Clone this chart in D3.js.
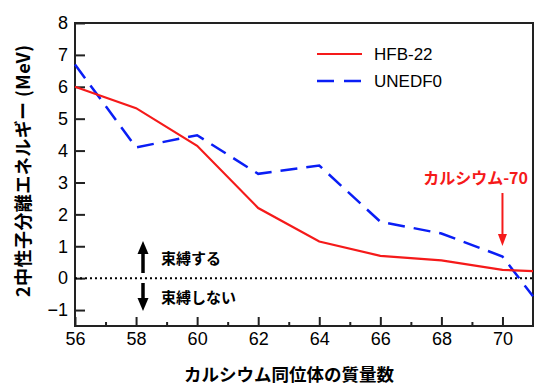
<!DOCTYPE html>
<html>
<head>
<meta charset="utf-8">
<script src="https://cdn.jsdelivr.net/npm/d3@7"></script>
<style>
  body { margin: 0; background: #fff; }
  text { font-family: "Liberation Sans", Arial, sans-serif; }
  .jp { font-family: "Noto Sans CJK JP", sans-serif; }
</style>
</head>
<body>
<div id="chart"></div>
<script>
var massNumbers = [56, 58, 60, 62, 64, 66, 68, 70, 71];
var hfb22 = [6.0, 5.33, 4.15, 2.2, 1.15, 0.7, 0.56, 0.26, 0.22];
var unedf0 = [6.7, 4.1, 4.48, 3.27, 3.53, 1.77, 1.4, 0.68, -0.57];
var xTicks = [56, 58, 60, 62, 64, 66, 68, 70];
var yTicks = [-1, 0, 1, 2, 3, 4, 5, 6, 7, 8];

var svgWidth = 550;
var svgHeight = 392;

var margin = { top: 23, right: 17, bottom: 66, left: 75 };
var width = svgWidth - margin.left - margin.right;
var height = svgHeight - margin.top - margin.bottom;

var svg = d3.select("#chart")
    .append("svg")
    .attr("width", svgWidth)
    .attr("height", svgHeight);

var g = svg.append("g")
    .attr("transform", `translate(${margin.left}, ${margin.top})`);

var x = d3.scaleLinear().domain([56, 71]).range([0, width]);
var y = d3.scaleLinear().domain([-1.5, 8]).range([height, 0]);

// axes, ticks drawn inward
var bottomAxis = d3.axisBottom(x)
    .tickValues(xTicks)
    .tickSize(-9)
    .tickPadding(6)
    .tickFormat(d3.format("d"));
var minorAxis = d3.axisBottom(x)
    .tickValues(d3.range(57, 71, 2))
    .tickSize(-4)
    .tickFormat("");
var leftAxis = d3.axisLeft(y)
    .tickValues(yTicks)
    .tickSize(-10)
    .tickPadding(7)
    .tickFormat(d => d < 0 ? "\u2212" + Math.abs(d) : d);

g.append("g").attr("transform", `translate(0, ${height})`).call(bottomAxis);
g.append("g").attr("transform", `translate(0, ${height})`).call(minorAxis);
g.append("g").call(leftAxis);

g.selectAll(".domain").remove();
g.selectAll(".tick line").attr("stroke", "#222").attr("stroke-width", 2);
g.selectAll(".tick text")
    .attr("fill", "#000")
    .style("font-size", "18px")
    .style("font-family", "'Liberation Sans', Arial, sans-serif");

// frame
g.append("rect")
    .attr("width", width)
    .attr("height", height)
    .attr("fill", "none")
    .attr("stroke", "#222")
    .attr("stroke-width", 2);

// zero line
g.append("line")
    .attr("x1", 0).attr("x2", width)
    .attr("y1", y(0)).attr("y2", y(0))
    .attr("stroke", "#000")
    .attr("stroke-width", 2)
    .attr("stroke-dasharray", "2,3");

var line = d3.line()
    .x((d, i) => x(massNumbers[i]))
    .y(d => y(d));

g.append("path")
    .datum(unedf0)
    .attr("d", line)
    .attr("fill", "none")
    .attr("stroke", "#0a1ef5")
    .attr("stroke-width", 2.5)
    .attr("stroke-dasharray", "17,9");

g.append("path")
    .datum(hfb22)
    .attr("d", line)
    .attr("fill", "none")
    .attr("stroke", "#f51a1a")
    .attr("stroke-width", 2.2);

// legend
var legend = svg.append("g");
legend.append("line")
    .attr("x1", 317).attr("x2", 362).attr("y1", 54).attr("y2", 54)
    .attr("stroke", "#f51a1a").attr("stroke-width", 2.2);
legend.append("line")
    .attr("x1", 317).attr("x2", 362).attr("y1", 81).attr("y2", 81)
    .attr("stroke", "#0a1ef5").attr("stroke-width", 2.5)
    .attr("stroke-dasharray", "17,10");
legend.append("text").attr("x", 374).attr("y", 60)
    .style("font-size", "17px").text("HFB-22");
legend.append("text").attr("x", 374).attr("y", 87)
    .style("font-size", "17px").text("UNEDF0");

// arrows
function arrow(sel, x0, y0, y1, color, w, hw, hl) {
    var dir = y1 > y0 ? 1 : -1;
    sel.append("line")
        .attr("x1", x0).attr("x2", x0)
        .attr("y1", y0).attr("y2", y1 - dir * (hl - 2))
        .attr("stroke", color).attr("stroke-width", w);
    sel.append("path")
        .attr("d", `M${x0 - hw},${y1 - dir * hl} L${x0 + hw},${y1 - dir * hl} L${x0},${y1} Z`)
        .attr("fill", color);
}

arrow(svg, 143, 273, 241, "#000", 3.5, 5.5, 13);
arrow(svg, 143, 283, 311, "#000", 3.5, 5.5, 13);
arrow(svg, margin.left + x(70), 193, 246, "#f51a1a", 2, 4.5, 12);

svg.append("text").attr("class", "jp")
    .attr("x", 161).attr("y", 264)
    .style("font-size", "15px").style("font-weight", "bold")
    .text("束縛する");
svg.append("text").attr("class", "jp")
    .attr("x", 161).attr("y", 303)
    .style("font-size", "15px").style("font-weight", "bold")
    .text("束縛しない");

svg.append("text").attr("class", "jp")
    .attr("x", 528).attr("y", 184)
    .attr("text-anchor", "end")
    .attr("fill", "#f51a1a")
    .style("font-size", "16px").style("font-weight", "bold")
    .text("カルシウム-70");

// axis titles
svg.append("text").attr("class", "jp")
    .attr("x", 289).attr("y", 381)
    .attr("text-anchor", "middle")
    .style("font-size", "17.5px").style("font-weight", "bold")
    .text("カルシウム同位体の質量数");

svg.append("text").attr("class", "jp")
    .attr("transform", "translate(30, 171) rotate(-90)")
    .attr("text-anchor", "middle")
    .attr("textLength", 252)
    .attr("lengthAdjust", "spacing")
    .style("font-size", "18px").style("font-weight", "bold")
    .text("2中性子分離エネルギー (MeV)");
</script>
</body>
</html>
